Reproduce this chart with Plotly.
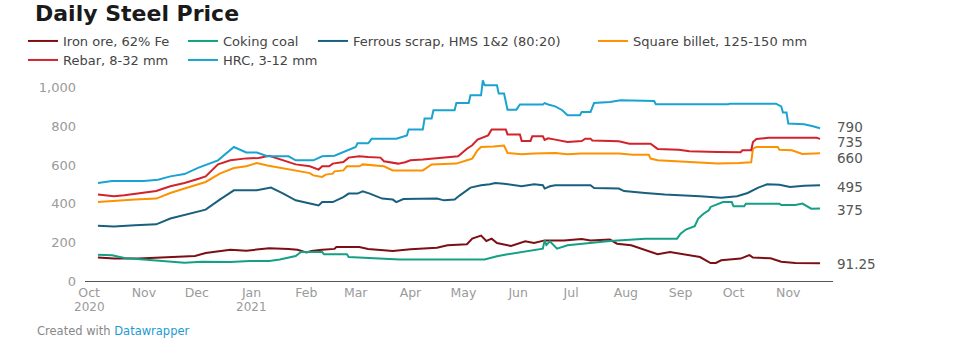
import plotly.graph_objects as go

# ---------------- data ----------------
iron_dates = ["2020-10-06","2020-10-15","2020-10-29","2020-11-08","2020-11-24","2020-11-30","2020-12-06","2020-12-13","2020-12-20","2020-12-29",
              "2021-01-05","2021-01-11","2021-01-22","2021-01-27","2021-02-01","2021-02-04","2021-02-10","2021-02-17","2021-02-18","2021-03-03",
              "2021-03-08","2021-03-13","2021-03-22","2021-04-01","2021-04-08","2021-04-16","2021-04-22","2021-04-27","2021-05-03","2021-05-06",
              "2021-05-11","2021-05-14","2021-05-17","2021-05-20","2021-05-28","2021-06-05","2021-06-10","2021-06-16","2021-06-27","2021-07-07",
              "2021-07-12","2021-07-23","2021-07-27","2021-08-04","2021-08-11","2021-08-14","2021-08-19","2021-08-26","2021-09-03","2021-09-12",
              "2021-09-18","2021-09-21","2021-09-24","2021-09-28","2021-10-05","2021-10-10","2021-10-12","2021-10-22","2021-10-28","2021-11-05",
              "2021-11-19"]
iron_values = [121,116,116,119,124,129,145,154,162,157,
               162,169,166,162,148,155,162,166,176,176,
               166,162,155,164,167,172,185,188,190,219,
               235,207,219,196,181,205,196,210,210,217,
               210,214,193,185,162,155,138,150,138,124,
               93,93,107,111,116,134,121,118,100,93,
               91.25]

coal_dates = ["2020-10-06","2020-10-14","2020-10-21","2020-11-01","2020-11-12","2020-11-24","2020-12-04","2020-12-20","2020-12-31","2021-01-11",
              "2021-01-17","2021-01-26","2021-01-29","2021-02-10","2021-02-11","2021-02-24","2021-02-25","2021-03-09","2021-03-26","2021-05-13",
              "2021-05-20","2021-05-26","2021-06-03","2021-06-15","2021-06-16","2021-06-17","2021-06-19","2021-06-23","2021-06-29","2021-07-12",
              "2021-07-23","2021-08-12","2021-08-30","2021-09-01","2021-09-04","2021-09-09","2021-09-11","2021-09-14","2021-09-17","2021-09-18",
              "2021-09-23","2021-09-25","2021-09-30","2021-10-01","2021-10-07","2021-10-08","2021-10-27","2021-10-28","2021-11-05","2021-11-09",
              "2021-11-14","2021-11-19"]
coal_values = [136,133,119,111,103,95,100,98,103,103,
               111,129,150,150,138,138,124,119,111,111,
               128,138,150,167,210,186,205,167,185,199,
               207,219,219,245,266,283,323,348,366,383,
               400,408,408,386,386,400,400,393,393,400,
               374,375]

scrap_dates = ["2020-10-06","2020-10-15","2020-10-27","2020-11-08","2020-11-16","2020-11-24","2020-12-06","2020-12-14","2020-12-22","2021-01-04",
               "2021-01-12","2021-01-19","2021-01-26","2021-02-05","2021-02-08","2021-02-10","2021-02-16","2021-02-22","2021-02-25","2021-03-02",
               "2021-03-05","2021-03-09","2021-03-16","2021-03-22","2021-03-24","2021-03-28","2021-04-16","2021-04-20","2021-04-26","2021-04-29",
               "2021-05-05","2021-05-11","2021-05-16","2021-05-19","2021-05-24","2021-06-03","2021-06-10","2021-06-15","2021-06-16","2021-06-19",
               "2021-06-22","2021-07-12","2021-07-14","2021-07-28","2021-07-31","2021-08-12","2021-08-23","2021-09-12","2021-09-24","2021-10-03",
               "2021-10-09","2021-10-15","2021-10-20","2021-10-27","2021-11-02","2021-11-10","2021-11-19"]
scrap_values = [286,282,288,293,323,340,369,421,469,469,
                483,452,417,397,391,408,408,434,452,452,
                464,452,426,421,408,424,426,417,421,443,
                483,495,500,507,503,490,500,495,478,490,
                495,495,481,478,465,455,447,438,431,438,
                455,483,500,498,486,493,495]

billet_dates = ["2020-10-06","2020-10-14","2020-10-27","2020-11-08","2020-11-16","2020-11-24","2020-12-06","2020-12-14","2020-12-22","2020-12-29",
                "2021-01-04","2021-01-10","2021-01-26","2021-02-03","2021-02-05","2021-02-10","2021-02-12","2021-02-16","2021-02-17","2021-02-22",
                "2021-02-24","2021-03-03","2021-03-05","2021-03-15","2021-03-17","2021-03-22","2021-04-08","2021-04-13","2021-04-27","2021-05-03",
                "2021-05-06","2021-05-09","2021-05-11","2021-05-18","2021-05-24","2021-05-26","2021-06-03","2021-06-10","2021-06-22","2021-06-29",
                "2021-07-07","2021-07-28","2021-08-05","2021-08-14","2021-08-15","2021-08-19","2021-09-22","2021-10-04","2021-10-11","2021-10-12",
                "2021-10-14","2021-10-26","2021-10-27","2021-11-03","2021-11-09","2021-11-19"]
billet_values = [408,414,421,426,455,478,512,555,584,593,
                 610,597,569,558,546,538,550,555,567,572,
                 593,593,603,597,593,572,572,603,607,624,
                 633,676,693,696,700,662,655,659,662,655,
                 659,659,653,653,633,624,607,610,614,684,
                 693,693,679,676,657,660]

rebar_dates = ["2020-10-06","2020-10-15","2020-10-21","2020-10-31","2020-11-08","2020-11-16","2020-11-24","2020-12-02","2020-12-06","2020-12-13",
               "2020-12-20","2020-12-29","2021-01-05","2021-01-11","2021-01-19","2021-01-26","2021-02-03","2021-02-08","2021-02-10","2021-02-14",
               "2021-02-16","2021-02-22","2021-02-25","2021-03-03","2021-03-08","2021-03-15","2021-03-17","2021-03-25","2021-03-29","2021-04-01",
               "2021-04-08","2021-04-16","2021-04-22","2021-04-28","2021-05-03","2021-05-06","2021-05-09","2021-05-15","2021-05-17","2021-05-25",
               "2021-05-26","2021-06-02","2021-06-03","2021-06-08","2021-06-09","2021-06-15","2021-06-16","2021-06-18","2021-06-22","2021-06-29",
               "2021-07-07","2021-07-09","2021-07-12","2021-07-13","2021-07-28","2021-08-03","2021-08-15","2021-08-19","2021-08-31","2021-09-06",
               "2021-09-22","2021-10-05","2021-10-06","2021-10-11","2021-10-12","2021-10-14","2021-10-21","2021-11-17","2021-11-19"]
rebar_values = [447,438,443,455,465,490,507,529,541,603,
                624,634,636,648,624,603,593,576,593,593,
                607,615,638,645,641,638,619,607,614,624,
                628,636,641,645,684,702,731,753,783,783,
                758,758,724,724,748,748,729,738,731,719,
                724,736,736,727,722,710,710,683,679,671,
                667,666,676,676,719,734,741,741,735]

hrc_dates = ["2020-10-06","2020-10-14","2020-11-01","2020-11-09","2020-11-16","2020-11-24","2020-12-02","2020-12-13","2020-12-22","2020-12-29",
             "2021-01-04","2021-01-10","2021-01-22","2021-01-26","2021-02-05","2021-02-10","2021-02-17","2021-02-24","2021-03-01","2021-03-02",
             "2021-03-08","2021-03-09","2021-03-10","2021-03-24","2021-03-30","2021-03-31","2021-04-08","2021-04-09","2021-04-13","2021-04-14",
             "2021-04-26","2021-04-27","2021-05-04","2021-05-05","2021-05-11","2021-05-12","2021-05-13","2021-05-20","2021-05-21","2021-05-24",
             "2021-05-26","2021-05-31","2021-06-02","2021-06-15","2021-06-16","2021-06-18","2021-06-22","2021-06-26","2021-06-29","2021-07-06",
             "2021-07-07","2021-07-12","2021-07-14","2021-07-23","2021-07-29","2021-08-17","2021-08-18","2021-09-28","2021-09-29","2021-10-25",
             "2021-10-28","2021-10-29","2021-10-31","2021-11-01","2021-11-10","2021-11-15","2021-11-19"]
hrc_values = [507,517,517,524,541,553,586,624,693,665,
              664,645,645,624,624,645,648,672,693,712,
              712,722,736,736,753,783,783,840,840,883,
              883,920,920,960,960,1038,1012,1012,969,969,
              886,886,913,913,920,913,903,883,857,857,
              874,874,920,926,934,931,914,914,917,917,
              903,871,871,814,810,800,790]

series_names = ["Iron ore, 62% Fe", "Coking coal", "Ferrous scrap, HMS 1&2 (80:20)",
                "Square billet, 125-150 mm", "Rebar, 8-32 mm", "HRC, 3-12 mm"]
series_dates = [iron_dates, coal_dates, scrap_dates, billet_dates, rebar_dates, hrc_dates]
series_values = [iron_values, coal_values, scrap_values, billet_values, rebar_values, hrc_values]

month_ticks = ["2020-10-01","2020-11-01","2020-12-01","2021-01-01","2021-02-01","2021-03-01","2021-04-01",
               "2021-05-01","2021-06-01","2021-07-01","2021-08-01","2021-09-01","2021-10-01","2021-11-01"]
month_labels = ["Oct","Nov","Dec","Jan","Feb","Mar","Apr","May","Jun","Jul","Aug","Sep","Oct","Nov"]
year_ticks = ["2020-10-01", "2021-01-01"]
year_labels = ["2020", "2021"]
y_ticks = [0, 200, 400, 600, 800, 1000]

# ---------------- style ----------------
FONT = "DejaVu Sans"
colors = ["#7d0f14", "#14a085", "#19607e", "#fd9100", "#d2232a", "#1aa3d1"]
legend_ids = ["legend", "legend", "legend", "legend", "legend2", "legend2"]
legend_widths = [115, 85, 235, None, 115, None]
label_shift = [-1, -2, -1.5, -5, -3, 1.3]   # yshift of end labels (per series order)

W, H = 970, 353
ML, MR, MT, MB = 85, 137, 75, 72
px_per_unit = 0.1934
plot_h = H - MT - MB
plot_w = W - ML - MR

def px_to_paper_x(px):
    return (px - ML) / plot_w

def px_to_paper_y(py):
    return (H - MB - py) / plot_h

fig = go.Figure()
for name, d, v, c, lg, lw in zip(series_names, series_dates, series_values, colors, legend_ids, legend_widths):
    kw = dict(legendwidth=lw) if lw else {}
    fig.add_trace(go.Scatter(x=d, y=v, mode="lines", name=name, legend=lg,
                             line=dict(color=c, width=2), hoverinfo="skip", **kw))

# end labels
for v, c, ys in zip(series_values, colors, label_shift):
    last = v[-1]
    fig.add_annotation(x=1, xref="paper", y=last, yref="y", xanchor="left", yanchor="middle",
                       xshift=2, yshift=ys, text=f"{last:g}", showarrow=False,
                       font=dict(family=FONT, size=13.5, color="#555555"))

# year labels under the month ticks
for yt, yl in zip(year_ticks, year_labels):
    fig.add_annotation(x=yt, xref="x", y=px_to_paper_y(306.5), yref="paper", xanchor="center",
                       yanchor="middle", text=yl, showarrow=False,
                       font=dict(family=FONT, size=12, color="#9a9a9a"))

fig.add_annotation(x=px_to_paper_x(35), xref="paper", y=px_to_paper_y(331), yref="paper",
                   xanchor="left", yanchor="middle", showarrow=False,
                   text="Created with <span style='color:#1d9bd1'>Datawrapper</span>",
                   font=dict(family=FONT, size=11.5, color="#888888"))

legend_common = dict(orientation="h", xanchor="left", yanchor="top", bgcolor="rgba(0,0,0,0)",
                     font=dict(family=FONT, size=13, color="#444444"), borderwidth=0,
                     itemclick=False, itemdoubleclick=False)

fig.update_layout(
    width=W, height=H,
    margin=dict(l=ML, r=MR, t=MT, b=MB, pad=0),
    paper_bgcolor="white", plot_bgcolor="white",
    title=dict(text="<b>Daily Steel Price</b>", x=35 / W, xanchor="left", xref="container",
               y=1 - 13 / H, yanchor="middle", yref="container",
               font=dict(family=FONT, size=22, color="#1a1a1a")),
    legend=dict(x=px_to_paper_x(23), y=px_to_paper_y(26), **legend_common),
    legend2=dict(x=px_to_paper_x(23), y=px_to_paper_y(45), **legend_common),
    showlegend=True,
    xaxis=dict(type="date", range=["2020-09-28 16:00", "2021-11-26 08:00"],
               tickvals=month_ticks, ticktext=month_labels, ticks="", showgrid=False,
               zeroline=False, showline=True, linecolor="#555555", linewidth=1.2,
               tickfont=dict(family=FONT, size=12.5, color="#9a9a9a")),
    yaxis=dict(range=[0, plot_h / px_per_unit], tickvals=y_ticks, tickformat=",",
               ticks="", showgrid=False, zeroline=False, showline=False,
               ticklabelstandoff=8,
               tickfont=dict(family=FONT, size=13, color="#9a9a9a")),
)

fig.write_html("out.html")
